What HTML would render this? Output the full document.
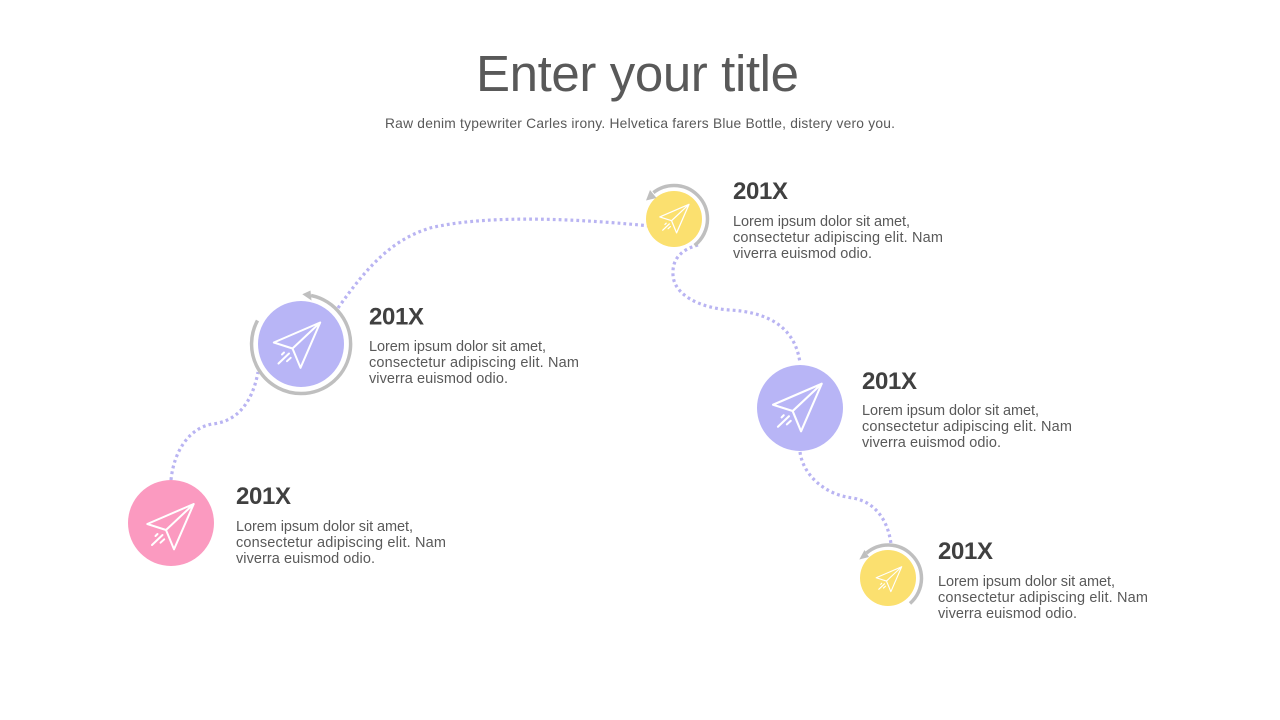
<!DOCTYPE html>
<html lang="en">
<head>
<meta charset="utf-8">
<title>Enter your title</title>
<style>
html,body{margin:0;padding:0;background:#fff;width:1280px;height:720px;overflow:hidden}
svg{display:block}
text{font-family:"Liberation Sans",sans-serif}
.h{font-weight:700;font-size:24px;fill:#404040}
.b{font-size:14.5px;fill:#595959}
.dot{fill:none;stroke:#b9b4f2;stroke-width:3.2;stroke-dasharray:2.8 3.1}
.ring{fill:none;stroke:#bfbfbf;stroke-width:3.5}
.pl{fill:none;stroke:#fff;stroke-width:2;stroke-linejoin:round;stroke-linecap:round}
</style>
</head>
<body>
<svg width="1280" height="720" viewBox="0 0 1280 720" xmlns="http://www.w3.org/2000/svg">
<defs>
<g id="plane">
<path class="pl" d="M22.7-19L-23.7 1L-5 7L3 26.3L22.7-19L-5 7"/>
<path class="pl" d="M-19 22L-8.5 12M-10.5 19.700L-6.800 16.300M-15.500 13L-13.500 11"/>
</g>
</defs>

<text x="476" y="91" font-size="51" fill="#595959" textLength="323" lengthAdjust="spacing">Enter your title</text>
<text x="385" y="128" font-size="13.8" fill="#595959" textLength="510" lengthAdjust="spacing">Raw denim typewriter Carles irony. Helvetica farers Blue Bottle, distery vero you.</text>

<path class="dot" d="M171 480C174 450 190 428 212 424C235 422 252 405 258 372"/>
<path class="dot" d="M338 308C365 270 390 240 430 228C480 216 560 217 650 226"/>
<path class="dot" d="M698 245C680 250 672 260 673 275C674 295 700 308 730 310C765 312 795 325 800 363"/>
<path class="dot" d="M800 452C803 475 825 495 853 498C875 502 888 520 891 544"/>

<circle cx="171" cy="523" r="43" fill="#fb9ac0"/>
<circle cx="301" cy="344" r="43" fill="#b8b5f6"/>
<circle cx="800" cy="408" r="43" fill="#b8b5f6"/>
<circle cx="674" cy="219" r="28" fill="#fbe06f"/>
<circle cx="888" cy="578" r="28" fill="#fbe06f"/>

<use href="#plane" transform="translate(171 523)"/>
<use href="#plane" transform="translate(297.500 341.500)"/>
<g transform="translate(797.900 403.700) scale(1.05)"><use href="#plane"/></g>
<g transform="translate(674.700 216.300) scale(.63)"><use href="#plane"/></g>
<g transform="translate(889.200 577.200) scale(.55)"><use href="#plane"/></g>

<path class="ring" d="M257.500 320.500A49.500 49.500 0 0 0 301 393.500A49.500 49.500 0 0 0 311 295.500"/>
<path d="M302.300 294.300L310.500 290.500L311.500 300.500Z" fill="#bfbfbf"/>

<path class="ring" d="M694.600 245.400A33.500 33.500 0 0 0 707.500 219A33.500 33.500 0 0 0 674 185.500A33.500 33.500 0 0 0 653.400 192.600"/>
<path d="M646 200.500L650 190L656.500 198Z" fill="#bfbfbf"/>

<path class="ring" d="M910 603.400A33.500 33.500 0 0 0 921.500 578.500A33.500 33.500 0 0 0 888 545A33.500 33.500 0 0 0 866.500 553"/>
<path d="M859.300 559.500L864.500 550L869 557Z" fill="#bfbfbf"/>

<text class="h" x="236" y="504" textLength="55" lengthAdjust="spacing">201X</text>
<text class="b" x="236" y="531" textLength="177" lengthAdjust="spacing">Lorem ipsum dolor sit amet,</text>
<text class="b" x="236" y="547" textLength="210" lengthAdjust="spacing">consectetur adipiscing elit. Nam</text>
<text class="b" x="236" y="563" textLength="139" lengthAdjust="spacing">viverra euismod odio.</text>

<text class="h" x="369" y="324.500" textLength="55" lengthAdjust="spacing">201X</text>
<text class="b" x="369" y="351" textLength="177" lengthAdjust="spacing">Lorem ipsum dolor sit amet,</text>
<text class="b" x="369" y="367" textLength="210" lengthAdjust="spacing">consectetur adipiscing elit. Nam</text>
<text class="b" x="369" y="383" textLength="139" lengthAdjust="spacing">viverra euismod odio.</text>

<text class="h" x="733" y="199" textLength="55" lengthAdjust="spacing">201X</text>
<text class="b" x="733" y="226" textLength="177" lengthAdjust="spacing">Lorem ipsum dolor sit amet,</text>
<text class="b" x="733" y="242" textLength="210" lengthAdjust="spacing">consectetur adipiscing elit. Nam</text>
<text class="b" x="733" y="258" textLength="139" lengthAdjust="spacing">viverra euismod odio.</text>

<text class="h" x="862" y="389" textLength="55" lengthAdjust="spacing">201X</text>
<text class="b" x="862" y="415" textLength="177" lengthAdjust="spacing">Lorem ipsum dolor sit amet,</text>
<text class="b" x="862" y="431" textLength="210" lengthAdjust="spacing">consectetur adipiscing elit. Nam</text>
<text class="b" x="862" y="447" textLength="139" lengthAdjust="spacing">viverra euismod odio.</text>

<text class="h" x="938" y="559" textLength="55" lengthAdjust="spacing">201X</text>
<text class="b" x="938" y="586" textLength="177" lengthAdjust="spacing">Lorem ipsum dolor sit amet,</text>
<text class="b" x="938" y="602" textLength="210" lengthAdjust="spacing">consectetur adipiscing elit. Nam</text>
<text class="b" x="938" y="618" textLength="139" lengthAdjust="spacing">viverra euismod odio.</text>
</svg>
</body>
</html>
